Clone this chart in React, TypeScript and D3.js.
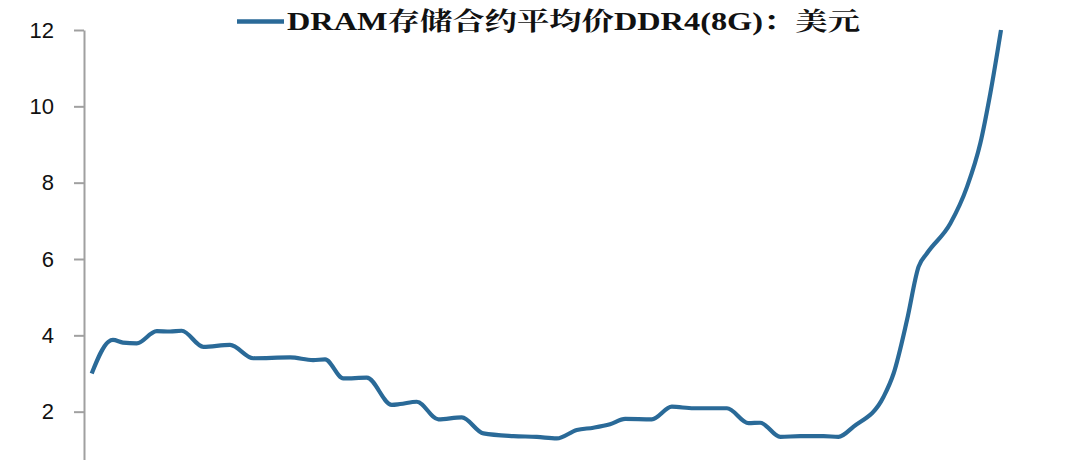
import React, { useEffect, useRef } from "react";
import * as d3 from "d3";

// period index (evenly spaced observation index) and price in USD
const periods = [
  0, 1.46, 1.87, 2.75, 3.96, 5.72, 6.89, 7.92, 9.82, 12.17, 14.22, 17.45, 19.48, 20.53,
  22.14, 24.2, 26.4, 27.13, 28.6, 30.5, 32.56, 34.46, 37.1, 39.16, 40.92, 42.68, 44.14,
  45.6, 46.93, 49.28, 51.04, 52.95, 55.89, 57.79, 58.82, 60.58, 62.34, 64.39, 65.7,
  67.03, 69.67, 70.55, 71.73, 72.75, 73.49, 75.54, 77.01, 78.18, 79.06, 80,
];
const prices = [
  3.0, 3.83, 3.88, 3.81, 3.79, 4.11, 4.1, 4.12, 3.7, 3.75, 3.4, 3.42, 3.35, 3.37,
  2.87, 2.89, 2.18, 2.2, 2.26, 1.8, 1.85, 1.43, 1.36, 1.34, 1.3, 1.52, 1.58,
  1.67, 1.81, 1.8, 2.13, 2.09, 2.09, 1.7, 1.71, 1.34, 1.36, 1.36, 1.34,
  1.61, 2.39, 3.0, 4.4, 5.8, 6.15, 6.93, 7.89, 9.03, 10.34, 12.0,
];
const yTicks = [2, 4, 6, 8, 10, 12];
const seriesName = "DRAM存储合约平均价DDR4(8G)：美元";

const W = 1080;
const H = 460;
const LINE_COLOR = "#2a6a98";

export default function App() {
  const axisRef = useRef<SVGGElement>(null);

  const x = d3.scaleLinear().domain([0, 80]).range([91.7, 1001]);
  const y = d3.scaleLinear().domain([0, 12]).range([488, 30]);

  const data = periods.map((p, i) => ({ p, v: prices[i] }));
  const line = d3
    .line<{ p: number; v: number }>()
    .x((d) => x(d.p))
    .y((d) => y(d.v))
    .curve(d3.curveMonotoneX);

  useEffect(() => {
    if (!axisRef.current) return;
    const g = d3.select(axisRef.current);
    g.selectAll("*").remove();
    g.call(
      d3
        .axisLeft(y)
        .tickValues(yTicks)
        .tickSize(10)
        .tickSizeOuter(0)
        .tickPadding(20)
        .tickFormat((d) => String(d))
    );
    g.attr("font-size", 22).attr("font-family", "'Liberation Sans', 'DejaVu Sans', sans-serif");
    g.select(".domain").attr("stroke", "#a0a0a0").attr("stroke-width", 2);
    g.selectAll(".tick line").attr("stroke", "#a0a0a0").attr("stroke-width", 2);
    g.selectAll(".tick text").attr("fill", "#111");
  }, []);

  return (
    <svg
      width={W}
      height={H}
      style={{ position: "absolute", left: 0, top: 0, background: "#ffffff" }}
    >
      <rect x={0} y={0} width={W} height={H} fill="#ffffff" />
      <g ref={axisRef} transform="translate(84,0)" />
      <path
        d={line(data) || ""}
        fill="none"
        stroke={LINE_COLOR}
        strokeWidth={4.2}
        strokeLinejoin="round"
        strokeLinecap="butt"
      />
      <g>
        <line x1={237} x2={284} y1={21.5} y2={21.5} stroke={LINE_COLOR} strokeWidth={4.5} />
        <text
          x={287}
          y={30}
          fontSize={25}
          fontWeight="bold"
          fill="#111"
          textLength={573}
          lengthAdjust="spacingAndGlyphs"
          fontFamily="'Liberation Serif', 'Noto Serif CJK SC', 'Noto Sans CJK SC', serif"
        >
          {seriesName}
        </text>
      </g>
    </svg>
  );
}
